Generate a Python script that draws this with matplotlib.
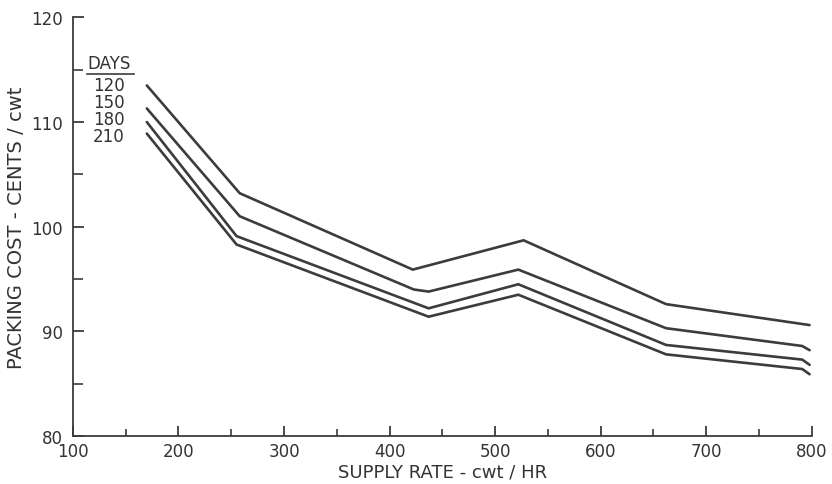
import matplotlib
matplotlib.use("Agg")
import matplotlib.pyplot as plt
from matplotlib.ticker import MultipleLocator

# ---- data ----
days = ["120", "150", "180", "210"]
x_120 = [170, 258, 422, 527, 662, 798]
y_120 = [113.5, 103.2, 95.9, 98.7, 92.6, 90.6]
x_150 = [170, 258, 423, 437, 522, 662, 791, 798]
y_150 = [111.3, 101.0, 94.0, 93.8, 95.9, 90.3, 88.6, 88.2]
x_180 = [170, 255, 437, 522, 662, 791, 798]
y_180 = [110.0, 99.1, 92.2, 94.5, 88.7, 87.3, 86.8]
x_210 = [170, 255, 437, 522, 662, 791, 798]
y_210 = [108.9, 98.3, 91.4, 93.5, 87.8, 86.4, 85.9]

x_ticks = [100, 200, 300, 400, 500, 600, 700, 800]
y_ticks = [80, 90, 100, 110, 120]
x_label = "SUPPLY RATE - cwt / HR"
y_label = "PACKING COST - CENTS / cwt"
legend_title = "DAYS"

plt.rcParams['font.family'] = ['DejaVu Sans']
ink = "#3c3c3c"
txt = "#333333"

fig = plt.figure(figsize=(8.32, 4.85), dpi=100)
ax = fig.add_axes([0.0877, 0.099, 0.8879, 0.863])

series = [(x_120, y_120), (x_150, y_150), (x_180, y_180), (x_210, y_210)]
for xs, ys in series:
    ax.plot(xs, ys, color=ink, lw=1.9, solid_joinstyle='miter', solid_capstyle='round')

ax.set_xlim(100, 800)
ax.set_ylim(80, 120)
for s in ["top", "right"]:
    ax.spines[s].set_visible(False)
for s in ["left", "bottom"]:
    ax.spines[s].set_color(ink)
    ax.spines[s].set_linewidth(1.3)

ax.set_xticks(x_ticks)
ax.set_xticklabels([str(v) for v in x_ticks])
ax.set_yticks(y_ticks)
ax.set_yticklabels([str(v) for v in y_ticks])
ax.xaxis.set_minor_locator(MultipleLocator(50))
ax.yaxis.set_minor_locator(MultipleLocator(5))
ax.tick_params(axis='x', which='major', direction='in', length=7, width=1.3,
               color=ink, labelsize=12, labelcolor=txt, pad=4)
ax.tick_params(axis='x', which='minor', direction='in', length=5, width=1.2, color=ink)
ax.tick_params(axis='y', which='major', direction='in', length=8, width=1.3,
               color=ink, labelsize=12, labelcolor=txt, pad=7)
ax.tick_params(axis='y', which='minor', direction='in', length=7, width=1.2, color=ink)

ax.set_xlabel(x_label, fontsize=13, color=txt, labelpad=2)
ax.set_ylabel(y_label, fontsize=14, color=txt, labelpad=4)

# legend block
ax.text(134, 115.6, legend_title, ha='center', va='center', fontsize=12, color=txt)
ax.plot([113.5, 158], [114.6, 114.6], color=ink, lw=1.2, clip_on=False)
leg_y = [113.5, 111.9, 110.3, 108.7]
for d, yy in zip(days, leg_y):
    ax.text(134, yy, d, ha='center', va='center', fontsize=12, color=txt)

fig.savefig("out.png", dpi=100, facecolor="white")
